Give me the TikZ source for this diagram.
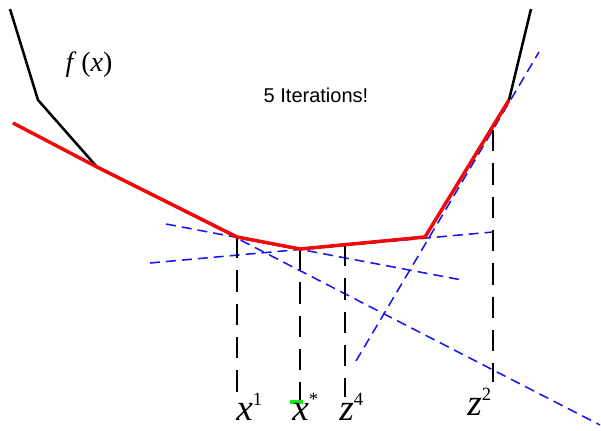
\documentclass[tikz,border=0pt]{standalone}
\usepackage{fontspec}
\setmainfont{Liberation Serif}
\newfontfamily\helv{Liberation Sans}
\usetikzlibrary{calc}
\definecolor{cutc}{RGB}{20,20,245}
\definecolor{modelc}{RGB}{240,10,10}
\definecolor{optc}{RGB}{20,230,20}
\tikzset{
  fun/.style={draw=black, line width=1.9pt},
  model/.style={draw=modelc, line width=2.6pt},
  cut/.style={draw=cutc, line width=1.15pt, dash pattern=on 7.5pt off 4.5pt},
  drop/.style={draw=black, line width=2pt, dash pattern=on 16pt off 9pt},
  lab/.style={font=\fontsize{28}{30}\selectfont\itshape, inner sep=0pt, anchor=base west},
}
\newcommand{\itlab}[2]{#1\raisebox{11pt}{\fontsize{14}{14}\selectfont\upshape #2}}

\begin{document}
\begin{tikzpicture}[x=0.75pt, y=-0.75pt]
  \useasboundingbox (0,0) rectangle (601,430);

  % kinks of f
  \coordinate (ftop) at (10,9);
  \coordinate (fa) at (38,100);
  \coordinate (fb) at (97,167);
  \coordinate (xone) at (237,237);
  \coordinate (xstar) at (300,249);
  \coordinate (zfour) at (345,245);
  \coordinate (fc) at (425,237);
  \coordinate (ztwo) at (493,130);
  \coordinate (fd) at (509,100);
  \coordinate (fend) at (531,9);
  \coordinate (mstart) at (13,123);

  % feet of the drops
  \coordinate (xonef) at (237,393);
  \coordinate (xstarf) at (300,400);
  \coordinate (zfourf) at (345,397);
  \coordinate (ztwof) at (493,382);

  % cut ends
  \coordinate (cuta) at (166,224);
  \coordinate (cutb) at (462,280);
  \coordinate (cutc) at (150,263);
  \coordinate (cutd) at (493,232);
  \coordinate (cute) at (600,425);
  \coordinate (cutf) at (356,361);
  \coordinate (cutg) at (539,52);

  \draw[cut] (cuta) -- (cutb);
  \draw[cut] (cutc) -- (cutd);
  \draw[cut] (mstart) -- (cute);
  \draw[cut] (cutf) -- (cutg);

  \draw[drop] (xone) -- (xonef);
  \draw[drop] (xstar) -- (xstarf);
  \draw[drop] (zfour) -- (zfourf);
  \draw[drop] (ztwo) -- (ztwof);

  \draw[fun] (ftop) -- (fa) -- (fb) -- (xone) -- (xstar) -- (fc) -- (fd) -- (fend);
  \draw[model] (mstart) -- (fb) -- (xone) -- (xstar) -- (fc) -- (fd);

  \coordinate (gl) at (290,402);
  \coordinate (gr) at (303,402);
  \draw[optc, line width=2.6pt] (gl) -- (gr);

  \node[font=\fontsize{21}{24}\selectfont, inner sep=0pt] (flab) at (89,65) {\textit{f}\,(\textit{x})};
  \node[font=\helv\fontsize{15}{18}\selectfont, inner sep=0pt] (iter) at (316,95) {5 Iterations!};

  \node[lab] (lxone) at (236,420) {\itlab{x}{1}};
  \node[lab] (lxstar) at (292,420) {\itlab{x}{*}};
  \node[lab] (lzfour) at (339,420) {\itlab{z}{4}};
  \node[lab] (lztwo) at (467,415) {\itlab{z}{2}};
\end{tikzpicture}
\end{document}
